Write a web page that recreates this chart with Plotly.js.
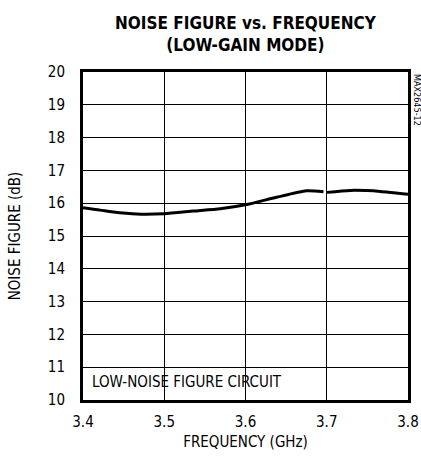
<!DOCTYPE html>
<html>
<head>
<meta charset="utf-8">
<script src="https://cdn.plot.ly/plotly-3.0.1.min.js"></script>
<style>html,body{margin:0;padding:0;background:#fff;}#chart{width:421px;height:457px;}</style>
</head>
<body>
<div id="chart"></div>
<script>
const freqA = [3.400, 3.435, 3.466, 3.500, 3.536, 3.569, 3.600, 3.638, 3.675, 3.696];
const nfA   = [15.86, 15.74, 15.67, 15.68, 15.76, 15.83, 15.95, 16.18, 16.38, 16.35];
const freqB = [3.700, 3.729, 3.766, 3.800];
const nfB   = [16.33, 16.39, 16.36, 16.27];
const xTicks = [3.4, 3.5, 3.6, 3.7, 3.8];
const xTickLabels = ["3.4", "3.5", "3.6", "3.7", "3.8"];
const yTicks = [10, 11, 12, 13, 14, 15, 16, 17, 18, 19, 20];

const font = "'DejaVu Sans Condensed', 'Liberation Sans Narrow', sans-serif";
const lineStyle = {color: '#000', width: 3, shape: 'spline', smoothing: 0.6};

const data = [
  {x: freqA, y: nfA, mode: 'lines', line: lineStyle, hoverinfo: 'skip'},
  {x: freqB, y: nfB, mode: 'lines', line: lineStyle, hoverinfo: 'skip'}
];

const layout = {
  width: 421, height: 457,
  margin: {l: 83, r: 13, t: 72, b: 57},
  paper_bgcolor: '#fff', plot_bgcolor: '#fff',
  showlegend: false,
  font: {family: font, color: '#000', size: 15},
  title: {
    text: 'NOISE FIGURE vs. FREQUENCY<br>(LOW-GAIN MODE)',
    font: {family: font, size: 17, weight: 'bold', color: '#000'},
    x: 0.583, xanchor: 'center', y: 0.937, yanchor: 'top'
  },
  xaxis: {
    range: [3.4, 3.8], tickvals: xTicks, ticktext: xTickLabels,
    showgrid: true, gridcolor: '#000', gridwidth: 1,
    showline: true, linecolor: '#000', linewidth: 3, mirror: true,
    ticks: '', zeroline: false, ticklabelstandoff: 6,
    tickfont: {family: font, size: 15, color: '#000'},
    title: {text: 'FREQUENCY (GHz)', font: {family: font, size: 15, color: '#000'}, standoff: 7}
  },
  yaxis: {
    range: [10, 20], tickvals: yTicks,
    showgrid: true, gridcolor: '#000', gridwidth: 1,
    showline: true, linecolor: '#000', linewidth: 3, mirror: true,
    ticks: '', zeroline: false, ticklabelstandoff: 12,
    tickfont: {family: font, size: 15, color: '#000'},
    title: {text: 'NOISE FIGURE (dB)', font: {family: font, size: 15, color: '#000'}, standoff: 24}
  },
  annotations: [
    {text: 'LOW-NOISE FIGURE CIRCUIT', xref: 'paper', yref: 'paper', x: 0.02, y: 0.055,
     xanchor: 'left', yanchor: 'middle', showarrow: false,
     font: {family: font, size: 15, color: '#000'}},
    {text: 'MAX2645-12', xref: 'paper', yref: 'paper', x: 1.0, y: 1.0,
     xshift: 9, xanchor: 'center', yanchor: 'top', textangle: 90, showarrow: false,
     font: {family: font, size: 9, color: '#000'}}
  ]
};

Plotly.newPlot('chart', data, layout, {displayModeBar: false, staticPlot: true});
</script>
</body>
</html>
